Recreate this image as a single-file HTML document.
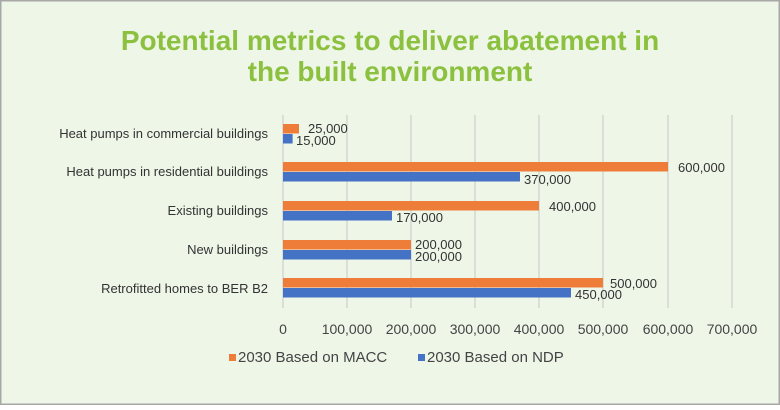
<!DOCTYPE html>
<html><head><style>
html,body{margin:0;padding:0;background:#fff;}
body{width:780px;height:405px;overflow:hidden;}
</style></head><body>
<svg width="780" height="405" xmlns="http://www.w3.org/2000/svg" font-family="Liberation Sans, sans-serif">
<rect x="0.5" y="0.5" width="779" height="404" fill="#eef6e8" stroke="#a8a8a8" stroke-width="2"/>
<text x="390" y="50" text-anchor="middle" font-size="28" font-weight="bold" fill="#8cc03f">Potential metrics to deliver abatement in</text>
<text x="390" y="81" text-anchor="middle" font-size="28" font-weight="bold" fill="#8cc03f">the built environment</text>
<g stroke="#cfcfcf" stroke-width="1.2">
<line x1="283" y1="115" x2="283" y2="308"/><line x1="347" y1="115" x2="347" y2="308"/>
<line x1="411" y1="115" x2="411" y2="308"/><line x1="475" y1="115" x2="475" y2="308"/>
<line x1="539" y1="115" x2="539" y2="308"/><line x1="603" y1="115" x2="603" y2="308"/>
<line x1="668" y1="115" x2="668" y2="308"/><line x1="732" y1="115" x2="732" y2="308"/>
</g>
<g fill="#ef7d3a">
<rect x="283" y="124" width="16" height="9.5"/>
<rect x="283" y="162" width="385" height="9.5"/>
<rect x="283" y="201" width="256" height="9.5"/>
<rect x="283" y="240" width="128" height="9.5"/>
<rect x="283" y="278" width="320" height="9.5"/>
</g>
<g fill="#4472c4">
<rect x="283" y="134" width="9.6" height="9.5"/>
<rect x="283" y="172" width="237" height="9.5"/>
<rect x="283" y="211" width="109" height="9.5"/>
<rect x="283" y="250" width="128" height="9.5"/>
<rect x="283" y="288" width="288" height="9.5"/>
</g>
<g font-size="13" fill="#333">
<text x="308" y="133">25,000</text><text x="296" y="145">15,000</text>
<text x="678" y="172">600,000</text><text x="524" y="184">370,000</text>
<text x="549" y="211">400,000</text><text x="396" y="222">170,000</text>
<text x="415" y="249">200,000</text><text x="415" y="261">200,000</text>
<text x="610" y="288">500,000</text><text x="575" y="299">450,000</text>
</g>
<g font-size="13" fill="#333" text-anchor="end">
<text x="268" y="138">Heat pumps in commercial buildings</text>
<text x="268" y="176">Heat pumps in residential buildings</text>
<text x="268" y="215">Existing buildings</text>
<text x="268" y="254">New buildings</text>
<text x="268" y="293">Retrofitted homes to BER B2</text>
</g>
<g font-size="14" fill="#444" text-anchor="middle">
<text x="283" y="334">0</text><text x="347" y="334">100,000</text><text x="411" y="334">200,000</text>
<text x="475" y="334">300,000</text><text x="539" y="334">400,000</text><text x="603" y="334">500,000</text>
<text x="668" y="334">600,000</text><text x="732" y="334">700,000</text>
</g>
<rect x="229" y="354" width="7" height="7" fill="#ef7d3a"/>
<text x="238" y="362" font-size="15" fill="#444">2030 Based on MACC</text>
<rect x="418" y="354" width="7" height="7" fill="#4472c4"/>
<text x="427" y="362" font-size="15" fill="#444">2030 Based on NDP</text>
</svg>
</body></html>
